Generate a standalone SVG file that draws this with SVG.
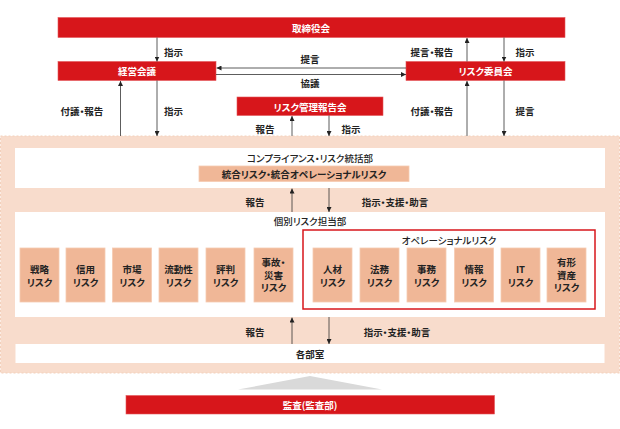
<svg xmlns="http://www.w3.org/2000/svg" width="620" height="429" viewBox="0 0 620 429">
<style>
text{font-family:"Noto Sans CJK JP","Noto Sans",sans-serif;font-size:9.5px;text-anchor:middle;dominant-baseline:central;fill:#222;font-weight:500;font-feature-settings:"palt" 1}
.red rect{fill:#d7161b;stroke:#e4575a;stroke-width:0.6}
.red text{fill:#fff;font-weight:700}
.risk rect{fill:#f0b797;stroke:#f6cbb2;stroke-width:0.8}
.risk text{font-weight:700;fill:#222}
.wbox{fill:#fff}
.lbl{font-weight:700}
#connectors line{stroke:#333;stroke-width:0.8;marker-end:url(#ah)}
</style>
<defs>
<marker id="ah" markerUnits="userSpaceOnUse" markerWidth="5" markerHeight="5" refX="5" refY="2.5" orient="auto">
<path d="M0,0 L5,2.5 L0,5 z" fill="#222"/>
</marker>
</defs>

<g id="background">
<rect x="0.5" y="136" width="619" height="237" fill="#f8dccc" stroke="#f3d0bb" stroke-width="1" stroke-dasharray="2,2"/>
</g>

<g id="board" class="red"><rect x="58" y="17.5" width="507" height="20"/><text x="311" y="28">取締役会</text></g>
<g id="exec" class="red"><rect x="58" y="61.5" width="158" height="19"/><text x="137" y="71">経営会議</text></g>
<g id="riskcomm" class="red"><rect x="406" y="61.5" width="159" height="19"/><text x="485.5" y="71">リスク委員会</text></g>
<g id="riskreport" class="red"><rect x="237" y="97" width="146" height="18.5"/><text x="310" y="106.5">リスク管理報告会</text></g>

<g id="compliance">
<rect class="wbox" x="15" y="148" width="590" height="40"/>
<text x="310" y="157.5">コンプライアンス・リスク統括部</text>
<g class="risk"><rect x="199" y="166" width="210" height="15.5"/><text x="304" y="174">統合リスク・統合オペレーショナルリスク</text></g>
</g>

<g id="individual">
<rect class="wbox" x="15" y="212" width="590" height="105"/>
<text x="310" y="221">個別リスク担当部</text>
</g>

<g id="r-strategy" class="risk"><rect x="20" y="248" width="39" height="54"/><text x="39.5" y="269">戦略</text><text x="39.5" y="281.5">リスク</text></g>
<g id="r-credit" class="risk"><rect x="66" y="248" width="39" height="54"/><text x="85.5" y="269">信用</text><text x="85.5" y="281.5">リスク</text></g>
<g id="r-market" class="risk"><rect x="112.5" y="248" width="39" height="54"/><text x="132" y="269">市場</text><text x="132" y="281.5">リスク</text></g>
<g id="r-liquidity" class="risk"><rect x="159" y="248" width="39" height="54"/><text x="178.5" y="269">流動性</text><text x="178.5" y="281.5">リスク</text></g>
<g id="r-reputation" class="risk"><rect x="206" y="248" width="39" height="54"/><text x="225.5" y="269">評判</text><text x="225.5" y="281.5">リスク</text></g>
<g id="r-accident" class="risk"><rect x="254" y="248" width="39" height="54"/><text x="273.5" y="262">事故・</text><text x="273.5" y="274.5">災害</text><text x="273.5" y="287">リスク</text></g>

<g id="operational">
<rect x="303" y="230" width="292" height="79" fill="none" stroke="#d7161b" stroke-width="1.5"/>
<text x="449" y="240">オペレーショナルリスク</text>
</g>
<g id="r-hr" class="risk"><rect x="313" y="248" width="39" height="54"/><text x="332.5" y="269">人材</text><text x="332.5" y="281.5">リスク</text></g>
<g id="r-legal" class="risk"><rect x="360" y="248" width="39" height="54"/><text x="379.5" y="269">法務</text><text x="379.5" y="281.5">リスク</text></g>
<g id="r-admin" class="risk"><rect x="407" y="248" width="39" height="54"/><text x="426.5" y="269">事務</text><text x="426.5" y="281.5">リスク</text></g>
<g id="r-info" class="risk"><rect x="454.5" y="248" width="39" height="54"/><text x="474" y="269">情報</text><text x="474" y="281.5">リスク</text></g>
<g id="r-it" class="risk"><rect x="501" y="248" width="39" height="54"/><text x="520.5" y="269">IT</text><text x="520.5" y="281.5">リスク</text></g>
<g id="r-tangible" class="risk"><rect x="547" y="248" width="39" height="54"/><text x="566.5" y="262">有形</text><text x="566.5" y="274.5">資産</text><text x="566.5" y="287">リスク</text></g>

<g id="depts">
<rect class="wbox" x="15.5" y="344" width="589" height="19"/>
<text x="310" y="353.5" class="lbl">各部室</text>
</g>

<g id="audit">
<polygon points="310,376 382,389.5 238,389.5" fill="#d9d9d9"/>
<g class="red"><rect x="126" y="395.5" width="368.5" height="18.5"/><text x="310" y="405">監査(監査部)</text></g>
</g>

<g id="connectors">
<line x1="157" y1="37.5" x2="157" y2="61.5"/>
<line x1="120.5" y1="136" x2="120.5" y2="81"/>
<line x1="157" y1="80.5" x2="157" y2="136"/>
<line x1="406" y1="68" x2="216.5" y2="68"/>
<line x1="216" y1="74.5" x2="406" y2="74.5"/>
<line x1="467" y1="61.5" x2="467" y2="38"/>
<line x1="504" y1="37.5" x2="504" y2="61.5"/>
<line x1="467" y1="136" x2="467" y2="81"/>
<line x1="504" y1="80.5" x2="504" y2="136"/>
<line x1="292" y1="136" x2="292" y2="116"/>
<line x1="329" y1="115.5" x2="329" y2="136"/>
<line x1="292" y1="212" x2="292" y2="188.5"/>
<line x1="329" y1="188" x2="329" y2="212"/>
<line x1="292" y1="344" x2="292" y2="317.5"/>
<line x1="329" y1="317" x2="329" y2="344"/>
</g>

<g id="labels" class="lbl">
<text x="173.5" y="51.5" class="lbl">指示</text>
<text x="310" y="59" class="lbl">提言</text>
<text x="310" y="83" class="lbl">協議</text>
<text x="432" y="52" class="lbl">提言・報告</text>
<text x="525" y="52" class="lbl">指示</text>
<text x="82" y="111" class="lbl">付議・報告</text>
<text x="173.5" y="111" class="lbl">指示</text>
<text x="432" y="111" class="lbl">付議・報告</text>
<text x="525" y="111" class="lbl">提言</text>
<text x="265" y="129" class="lbl">報告</text>
<text x="351" y="129" class="lbl">指示</text>
<text x="255" y="201.5" class="lbl">報告</text>
<text x="395" y="201.5" class="lbl">指示・支援・助言</text>
<text x="255" y="332" class="lbl">報告</text>
<text x="397" y="332" class="lbl">指示・支援・助言</text>
</g>
</svg>
